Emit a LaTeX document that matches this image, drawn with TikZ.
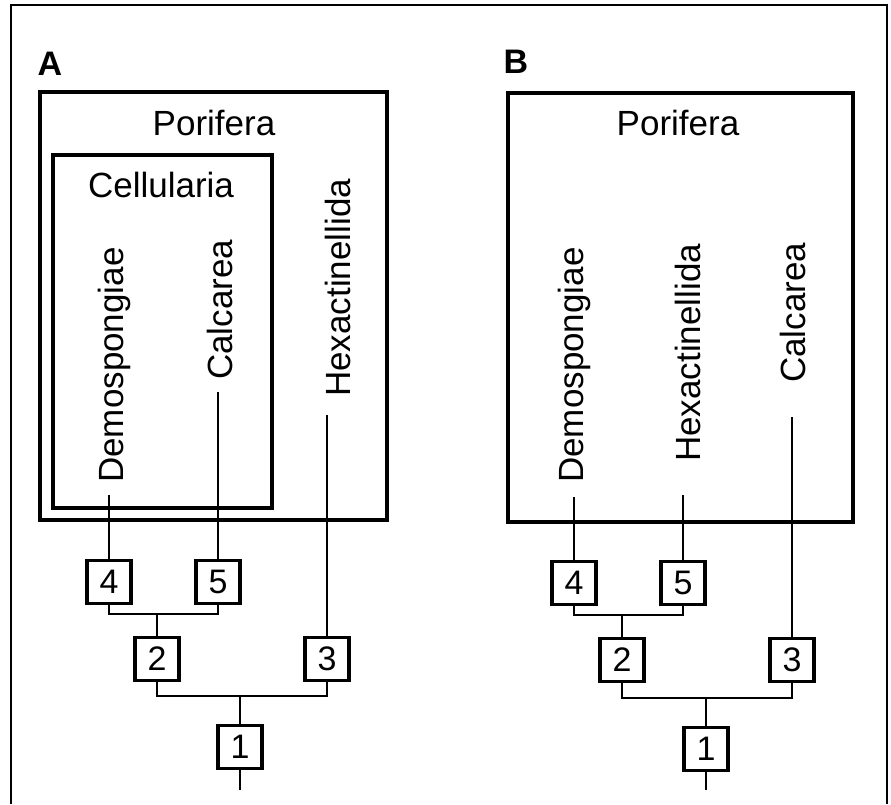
\documentclass[tikz,border=0pt]{standalone}
\usepackage{fontspec}
\setmainfont{Liberation Sans}
\begin{document}
\begin{tikzpicture}[x=1pt,y=-1pt,
  lbl/.style={inner sep=0pt,font=\fontsize{35}{40}\selectfont},
  vlbl/.style={lbl,rotate=90,anchor=base west},
  panel/.style={inner sep=0pt,font=\fontsize{34}{40}\selectfont\bfseries},
  numbox/.style={draw,line width=3.4pt,fill=white,minimum width=44pt,minimum height=43pt,inner sep=0pt,font=\fontsize{34}{40}\selectfont},
  frame/.style={line width=3.4pt},
  conn/.style={line width=2.2pt}]
\useasboundingbox (0,0) rectangle (891,804);
% outer frame
\draw[line width=2.4pt] (11,804) -- (11,5) -- (887,5) -- (887,804);

% ---------- Panel A ----------
\node[panel] (labA) at (50,64) {A};
\draw[frame] (40,92) rectangle (387,520);
\node[lbl] (porA) at (214,123) {Porifera};
\draw[frame] (53,155) rectangle (272,508);
\node[lbl] (celA) at (161,185) {Cellularia};
\node[vlbl] (demA) at (123,483) {Demospongiae};
\node[vlbl] (calA) at (232,380) {Calcarea};
\node[vlbl] (hexA) at (350,397) {Hexactinellida};
\coordinate (demAe) at (109,495);
\coordinate (calAe) at (218,392);
\coordinate (hexAe) at (327,415);

\node[numbox] (b4A) at (109,582) {4};
\node[numbox] (b5A) at (218,582) {5};
\node[numbox] (b2A) at (157,659) {2};
\node[numbox] (b3A) at (327,659) {3};
\node[numbox] (b1A) at (240,747) {1};
\coordinate (jA1) at (157,614);
\coordinate (jA2) at (240,696);
\coordinate (eA) at (240,790);

\draw[conn] (demAe) -- (b4A.north);
\draw[conn] (calAe) -- (b5A.north);
\draw[conn] (hexAe) -- (b3A.north);
\draw[conn] (b4A.south) |- (jA1) -| (b5A.south);
\draw[conn] (jA1) -- (b2A.north);
\draw[conn] (b2A.south) |- (jA2) -| (b3A.south);
\draw[conn] (jA2) -- (b1A.north);
\draw[conn] (b1A.south) -- (eA);

% ---------- Panel B ----------
\node[panel] (labB) at (516,62) {B};
\draw[frame] (508,93) rectangle (853,522);
\node[lbl] (porB) at (678,123) {Porifera};
\node[vlbl] (demB) at (583,483) {Demospongiae};
\node[vlbl] (hexB) at (700,462) {Hexactinellida};
\node[vlbl] (calB) at (805,383) {Calcarea};
\coordinate (demBe) at (574,497);
\coordinate (hexBe) at (683,495);
\coordinate (calBe) at (792,417);

\node[numbox] (b4B) at (574,583) {4};
\node[numbox] (b5B) at (683,583) {5};
\node[numbox] (b2B) at (622,660) {2};
\node[numbox] (b3B) at (792,660) {3};
\node[numbox] (b1B) at (706,749) {1};
\coordinate (jB1) at (622,615);
\coordinate (jB2) at (706,698);
\coordinate (eB) at (706,790);

\draw[conn] (demBe) -- (b4B.north);
\draw[conn] (hexBe) -- (b5B.north);
\draw[conn] (calBe) -- (b3B.north);
\draw[conn] (b4B.south) |- (jB1) -| (b5B.south);
\draw[conn] (jB1) -- (b2B.north);
\draw[conn] (b2B.south) |- (jB2) -| (b3B.south);
\draw[conn] (jB2) -- (b1B.north);
\draw[conn] (b1B.south) -- (eB);
\end{tikzpicture}
\end{document}
